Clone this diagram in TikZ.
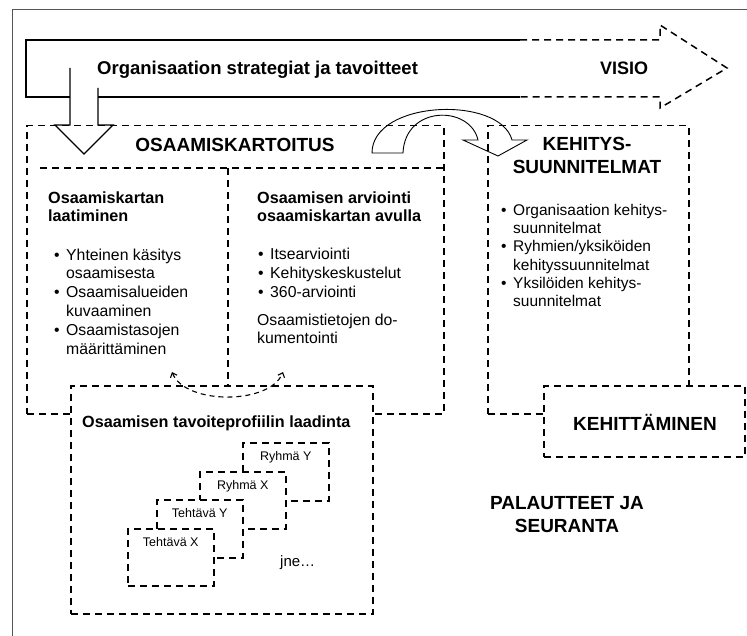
\documentclass[tikz,border=0pt]{standalone}
\usepackage{fontspec}
\setmainfont{Liberation Sans}
\usetikzlibrary{positioning, arrows.meta}
\definecolor{framegray}{HTML}{555555}
\newcommand\bt{\makebox[12pt][l]{\textbullet}}
\newcommand\ind{\hspace*{12pt}}

\begin{document}
\begin{tikzpicture}[
    x=1pt, y=-1pt,
    dbox/.style={draw, line width=1.5pt, dash pattern=on 7pt off 5pt, inner sep=0, anchor=north west},
    dline/.style={line width=1.5pt, dash pattern=on 7pt off 5pt},
    sline/.style={line width=1.4pt},
    title/.style={font=\bfseries\fontsize{19}{23}\selectfont, align=center, inner sep=0},
    subhead/.style={font=\bfseries\fontsize{16.2}{18.5}\selectfont, align=left, inner sep=0, anchor=base west},
    body/.style={font=\fontsize{15.8}{18.8}\selectfont, align=left, inner sep=0, anchor=base west},
    small/.style={font=\fontsize{12.5}{14}\selectfont, inner sep=0},
  ]
  \useasboundingbox (0,0) rectangle (747,636);

  % frame
  \draw[framegray, line width=1pt] (12,636) -- (12,10) -- (747,10);

  % Osaamiskartoitus (text nodes anchored at their last baseline)
  \node[dbox, minimum width=417, minimum height=288] (kart) at (26,125) {};
  \node[title] (karttitle) at (235,145) {OSAAMISKARTOITUS};
  \draw[dline] (40,168) -- (443,168);
  \draw[dline] (228,168) -- (228,385);

  \node[subhead] (laat) at (48,222) {Osaamiskartan\\laatiminen};
  \node[body] (lista) at (54,354) {\bt Yhteinen käsitys\\\ind osaamisesta\\\bt Osaamisalueiden\\\ind kuvaaminen\\\bt Osaamistasojen\\\ind määrittäminen};

  \node[subhead] (arv) at (257,222) {Osaamisen arviointi\\osaamiskartan avulla};
  \node[body] (listb) at (258,297.6) {\bt Itsearviointi\\\bt Kehityskeskustelut\\\bt 360-arviointi};
  \node[body] (dok) at (257,344) {Osaamistietojen do-\\kumentointi};

  % Kehityssuunnitelmat
  \node[dbox, minimum width=201, minimum height=288] (kehs) at (487,125) {};
  \node[title] (kehstitle) at (587,155) {KEHITYS-\\SUUNNITELMAT};
  \node[body, font=\fontsize{15.5}{18.4}\selectfont] (listc) at (501,307) {\bt Organisaation kehitys-\\\ind suunnitelmat\\\bt Ryhmien/yksiköiden\\\ind kehityssuunnitelmat\\\bt Yksilöiden kehitys-\\\ind suunnitelmat};

  % strategy arrow
  \draw[sline] (70,97) -- (26,97) -- (26,40) -- (520,40);
  \draw[dline] (520,40) -- (660,40) -- (660,25) -- (727,68) -- (660,108) -- (660,97) -- (520,97);
  \draw[sline] (520,97) -- (98,97);
  \draw[sline] (70,68) -- (70,125) -- (55,125) -- (84,154) -- (113,125) -- (98,125) -- (98,88);
  \node[font=\bfseries\fontsize{18.5}{22}\selectfont, anchor=west, inner sep=0] (strat) at (97,70) {Organisaation strategiat ja tavoitteet};
  \node[font=\bfseries\fontsize{18}{22}\selectfont, anchor=west, inner sep=0] (visio) at (600,68) {VISIO};

  % curved arrow
  \draw[line width=0.9pt] (372,153) .. controls (372,100) and (500,95) .. (512,140)
    -- (527,140) -- (498,156) -- (463,140) -- (478,140)
    .. controls (470,105) and (405,105) .. (403,153) -- cycle;

  % Tavoiteprofiili
  \node[dbox, fill=white, minimum width=302, minimum height=228] (prof) at (70,385) {};
  \node[subhead] (proftitle) at (82,427) {Osaamisen tavoiteprofiilin laadinta};

  \node[dbox, fill=white, minimum width=86, minimum height=58] (ry) at (242,442) {};
  \node[small, below=9pt of ry.north] (rylab) {Ryhmä Y};
  \node[dbox, fill=white, minimum width=86, minimum height=57] (rx) at (199,471) {};
  \node[small, below=9pt of rx.north] (rxlab) {Ryhmä X};
  \node[dbox, fill=white, minimum width=86, minimum height=58] (ty) at (156,499) {};
  \node[small, below=9pt of ty.north] (tylab) {Tehtävä Y};
  \node[dbox, fill=white, minimum width=86, minimum height=57] (tx) at (127,528) {};
  \node[small, below=9pt of tx.north] (txlab) {Tehtävä X};
  \node[font=\fontsize{15}{16}\selectfont, anchor=west, inner sep=0] (jne) at (280,563) {jne\dots};

  % feedback arc
  \coordinate (arcL) at (172,372);
  \coordinate (arcR) at (283,372);
  \draw[line width=1.1pt, dash pattern=on 5pt off 4pt, {Straight Barb[length=4pt,width=7pt]}-{Straight Barb[length=4pt,width=7pt]}]
    (arcL) .. controls (185,405) and (270,405) .. (arcR);

  % Kehittaminen
  \node[dbox, fill=white, minimum width=201, minimum height=71] (keht) at (543,385) {};
  \node[title] (kehttitle) at (645,422) {KEHITTÄMINEN};

  \node[title] (pal) at (567,515) {PALAUTTEET JA\\SEURANTA};
\end{tikzpicture}
\end{document}
